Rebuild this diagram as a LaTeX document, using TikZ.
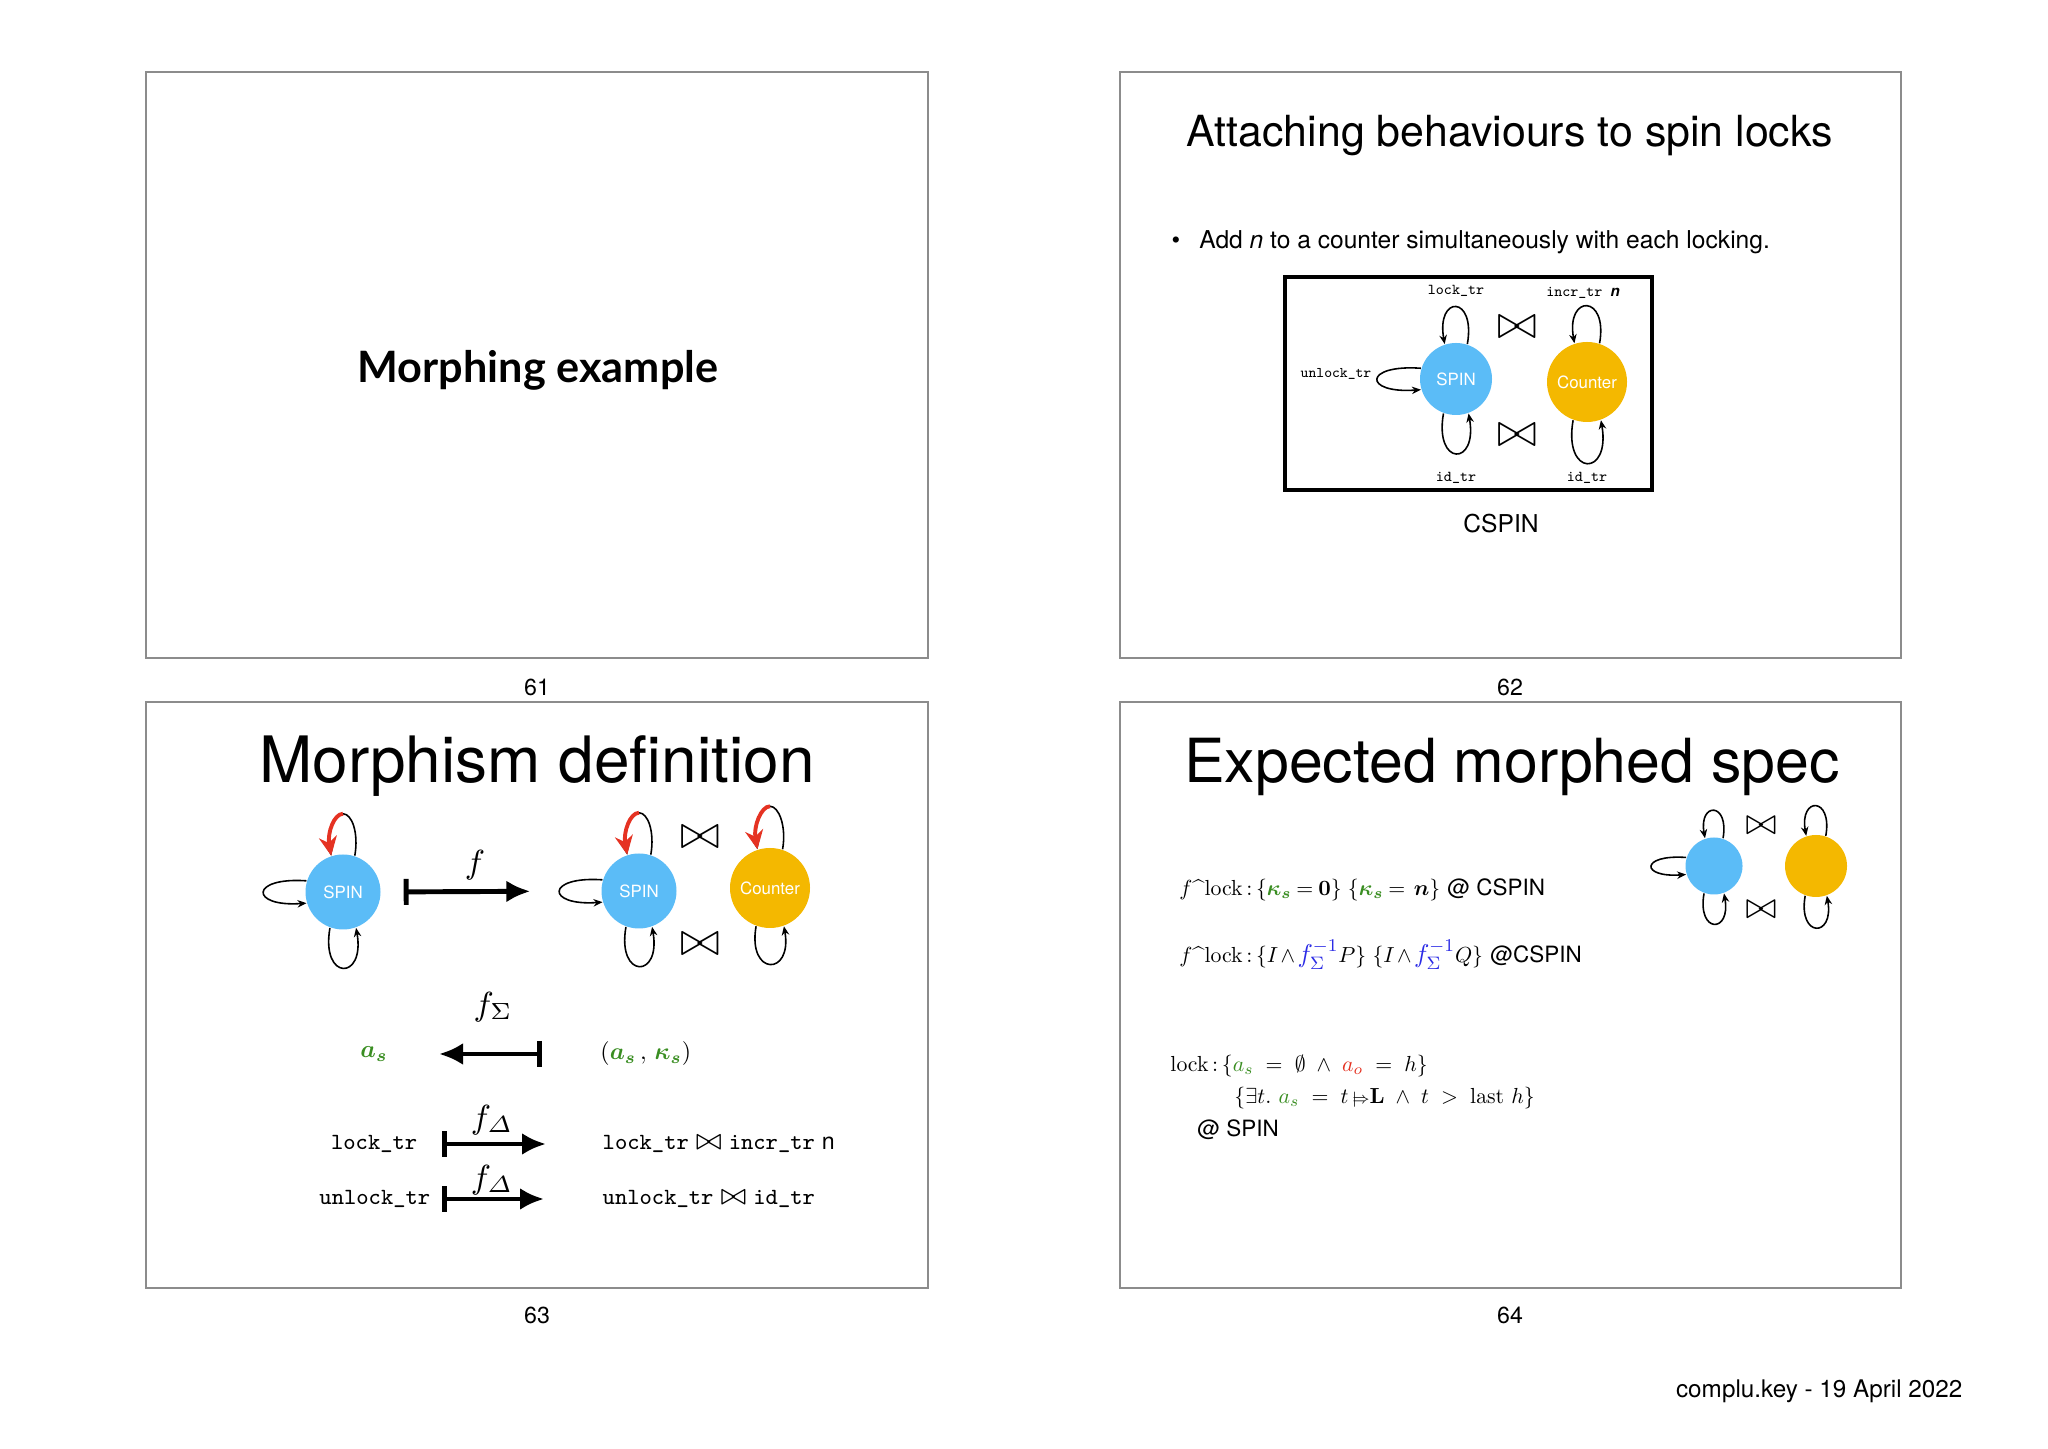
\RequirePackage{fix-cm}
\documentclass[tikz,border=0pt]{standalone}
\usepackage{amsmath,amssymb}
\usepackage[no-math]{fontspec}
\usepackage{tikz}
\usetikzlibrary{arrows.meta}
\newfontfamily\heros{TeX Gyre Heros}
\newfontfamily\lato{Lato}
\definecolor{spinblue}{HTML}{5BBCF7}
\definecolor{cntorange}{HTML}{F4B800}
\definecolor{morphred}{HTML}{E53222}
\definecolor{morphgreen}{HTML}{3A8E22}
\definecolor{morphblue}{HTML}{2B2BE6}
\definecolor{framegray}{HTML}{8C8C8C}
\newcommand{\fsz}[1]{\fontsize{#1}{#1}\selectfont}
\newcommand{\barto}{{\scriptstyle\mid\mkern-5mu\Rightarrow}}
\newcommand{\finv}{\mbox{\fsz{11.8}\color{morphblue}$f_\Sigma^{-1}$}}

\tikzset{
  slide/.style={draw=framegray,line width=0.5pt},
  stnode/.style={circle,inner sep=0pt,text=white,font=\heros\fsz{4.8}},
  spin/.style={stnode,fill=spinblue},
  cnt/.style={stnode,fill=cntorange},
  lbl/.style={inner sep=0pt},
  shrunk/.style={lbl,font=\fsz{10},scale=#1,transform shape},
  spec/.style={shrunk=0.62,anchor=west},
  tight/.style={execute at begin node={\thickmuskip=4mu\medmuskip=2mu}},
  trloop/.style={line width=0.45pt,-{Stealth[length=0.9mm,width=0.75mm]}},
  redloop/.style={morphred,line width=1.1pt,-{Stealth[length=1.9mm,width=1.8mm]}},
  maparr/.style={line width=1.4pt,arrows={Bar[width=2.6mm]-Latex[length=2.4mm,width=2.2mm]}},
}

\begin{document}
\begin{tikzpicture}[x=0.1mm,y=0.1mm]
  \fill[white] (0,0) rectangle (2048,1448);
  \useasboundingbox (0,0) rectangle (2048,1448);

  % slide frames and numbers
  \draw[slide] (146,790) rectangle (928,1376);
  \draw[slide] (1120,790) rectangle (1901,1376);
  \draw[slide] (146,160) rectangle (928,746);
  \draw[slide] (1120,160) rectangle (1901,746);
  \foreach \x/\y/\k in {537/761/61,1510/761/62,537/133/63,1510/133/64}
    \node[font=\heros\fsz{6.6}] (num\k) at (\x,\y) {\k};
  \node[lbl,font=\heros\fsz{6.9},anchor=base east] (footer) at (1963,50) {complu.key - 19 April 2022};

  % 61
  \node[font=\lato\bfseries\fsz{12.3},anchor=base] (title61) at (538,1065) {Morphing example};

  % 62
  \node[font=\heros\fsz{12.2},anchor=base] (title62) at (1510,1301) {Attaching behaviours to spin locks};
  \node[font=\heros\fsz{7},anchor=base west,inner sep=0pt] (bullet62) at (1171,1199)
    {\textbullet\hspace{1.9mm}Add \textit{n} to a counter simultaneously with each locking.};
  \draw[line width=1.1pt] (1285,958) rectangle (1652,1171);
  \node[spin,minimum size=7.2mm] (spinA) at (1456,1069) {SPIN};
  \node[cnt,minimum size=8mm] (cntA) at (1587,1066) {Counter};
  \node[lbl,font=\ttfamily\fsz{4.3}] (lockA) at (1456,1157) {lock\_tr};
  \node[lbl,font=\ttfamily\fsz{4.3}] (incrA) at (1583,1155) {incr\_tr\ {\heros\bfseries\itshape n}};
  \node[lbl,font=\ttfamily\fsz{4.2}] (unlockA) at (1336,1074) {unlock\_tr};
  \node[lbl,font=\ttfamily\fsz{4.3}] (idA1) at (1456,970) {id\_tr};
  \node[lbl,font=\ttfamily\fsz{4.3}] (idA2) at (1587,970) {id\_tr};
  \node[lbl,font=\fsz{13.7}] (joinA1) at (1517,1121) {$\bowtie$};
  \node[lbl,font=\fsz{13.7}] (joinA2) at (1517,1013) {$\bowtie$};
  \foreach \n/\t/\b in {spinA/5mm/5.4mm,cntA/5mm/5.8mm}{
    \draw[trloop] (\n.72) .. controls +(80:\t) and +(100:\t) .. (\n.108);
    \draw[trloop] (\n.250) .. controls +(260:\b) and +(280:\b) .. (\n.290);
  }
  \draw[trloop] (spinA.163) .. controls +(176:5.8mm) and +(184:5.8mm) .. (spinA.197);
  \node[font=\heros\fsz{7},anchor=base] (cspin) at (1501,915) {CSPIN};

  % 63
  \node[font=\heros\fsz{18.2},anchor=base] (title63) at (537,665) {Morphism definition};
  \node[spin,minimum size=7.5mm] (spinL) at (343,556) {SPIN};
  \node[spin,minimum size=7.5mm] (spinR) at (639,557) {SPIN};
  \node[cnt,minimum size=8mm] (cntB) at (770,560) {Counter};
  \node[lbl,font=\fsz{13.7}] (joinB1) at (700,611) {$\bowtie$};
  \node[lbl,font=\fsz{13.7}] (joinB2) at (700,504) {$\bowtie$};
  \foreach \n/\t/\b in {spinL/4mm/5.4mm,spinR/4mm/5.3mm,cntB/4.1mm/5.1mm}{
    \coordinate (\n top) at ([yshift=\t]\n.north);
    \draw[trloop] (\n.72) .. controls +(80:2.3mm) and +(0:0.9mm) .. (\n top)
      .. controls +(180:0.9mm) and +(100:2.3mm) .. (\n.108);
    \draw[redloop] (\n top) .. controls +(180:0.9mm) and +(100:2.3mm) .. (\n.108);
    \draw[trloop] (\n.250) .. controls +(260:\b) and +(280:\b) .. (\n.290);
  }
  \foreach \n in {spinL,spinR}
    \draw[trloop] (\n.163) .. controls +(176:5.7mm) and +(184:5.7mm) .. (\n.197);
  \draw[maparr,shorten <=2.25mm,shorten >=7.05mm] (spinL.east) -- (spinR.west);
  \node[font=\fsz{9.5}] (fmap) at (475,583) {$f$};

  \node[font=\fsz{9.5}] (fsig) at (493,441) {$f_\Sigma$};
  \node[shrunk=0.7,text=morphgreen,anchor=east] (asB) at (388,394) {$\boldsymbol{a_s}$};
  \node[shrunk=0.68,anchor=west] (kapB) at (600,394)
    {$(\textcolor{morphgreen}{\boldsymbol{a_s}}\,,\,\textcolor{morphgreen}{\boldsymbol{\kappa_s}})$};
  \draw[maparr,shorten <=5.8mm,shorten >=5.1mm] (kapB.west) -- (asB.east);

  \node[font=\fsz{9.5}] (fdel1) at (492,328) {$f_{\varDelta}$};
  \node[lbl,font=\ttfamily\fsz{6.6},anchor=east] (lockB) at (418,304) {lock\_tr};
  \node[lbl,font=\ttfamily\fsz{6.6},anchor=west] (lockC) at (602,304)
    {lock\_tr\hspace{0.7mm}{\fsz{8.3}$\bowtie$}\hspace{0.7mm}incr\_tr\hspace{0.7mm}{\heros n}};
  \draw[maparr,shorten <=2.4mm,shorten >=5.6mm] (lockB.east) -- (lockC.west);

  \node[font=\fsz{9.5}] (fdel2) at (492,268) {$f_{\varDelta}$};
  \node[lbl,font=\ttfamily\fsz{6.6},anchor=east] (unlockB) at (431,249) {unlock\_tr};
  \node[lbl,font=\ttfamily\fsz{6.6},anchor=west] (unlockC) at (602,249)
    {unlock\_tr\hspace{0.7mm}{\fsz{8.3}$\bowtie$}\hspace{0.7mm}id\_tr};
  \draw[maparr,shorten <=1.1mm,shorten >=5.8mm] (unlockB.east) -- (unlockC.west);

  % 64
  \node[font=\heros\fsz{17.3},anchor=base] (title64) at (1512,665) {Expected morphed spec};
  \node[spin,minimum size=5.7mm] (spinC) at (1714,582) {};
  \node[cnt,minimum size=6.2mm] (cntC) at (1816,582) {};
  \node[lbl,font=\fsz{10.6}] (joinC1) at (1761,622) {$\bowtie$};
  \node[lbl,font=\fsz{10.6}] (joinC2) at (1761,538) {$\bowtie$};
  \foreach \n/\t/\b in {spinC/3.7mm/4.1mm,cntC/4mm/4.3mm}{
    \draw[trloop] (\n.72) .. controls +(80:\t) and +(100:\t) .. (\n.108);
    \draw[trloop] (\n.250) .. controls +(260:\b) and +(280:\b) .. (\n.290);
  }
  \draw[trloop] (spinC.163) .. controls +(176:4.6mm) and +(184:4.6mm) .. (spinC.197);

  \node[spec,tight] (spec1) at (1179,558)
    {$f$\^{}lock\,:\,$\{\textcolor{morphgreen}{\boldsymbol{\kappa_s}}=\boldsymbol{0}\}$\hspace{1mm}$\{\textcolor{morphgreen}{\boldsymbol{\kappa_s}}=\,\boldsymbol{n}\}$ {\heros\fsz{10.3}@ CSPIN}};
  \node[spec,tight] (spec2) at (1179,493)
    {$f$\^{}lock\,:\,$\{I\wedge\finv P\}$\hspace{1mm}$\{I\wedge\finv Q\}$ {\heros\fsz{10.3}@CSPIN}};
  \node[spec] (spec3) at (1170,382)
    {lock\,:\,$\{\textcolor{morphgreen}{a_s}\;=\;\emptyset\;\wedge\;\textcolor{morphred}{a_o}\;=\;h\}$};
  \node[spec] (spec4) at (1234,350)
    {$\{\exists t.\ \textcolor{morphgreen}{a_s}\;=\;t\,\barto\mathbf{L}\;\wedge\;t\;>\;\mathrm{last}\ h\}$};
  \node[spec,font=\heros\fsz{10.3}] (spec5) at (1197,318) {@ SPIN};
\end{tikzpicture}
\end{document}
